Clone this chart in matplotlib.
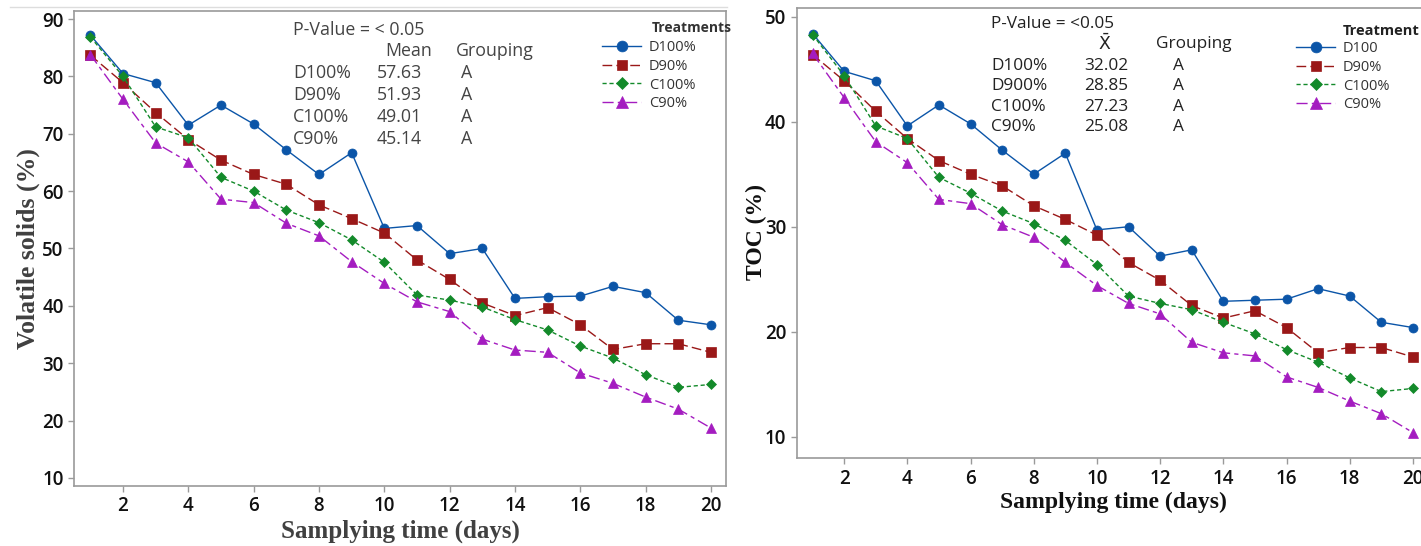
import numpy as np
import matplotlib.pyplot as plt
from matplotlib.lines import Line2D

days = list(range(1, 21))
series = ['D100%', 'D90%', 'C100%', 'C90%']

# volatile solids (%)
vs_d100 = [87.2, 80.5, 78.9, 71.5, 75.0, 71.7, 67.2, 62.9, 66.7, 53.5,
           54.0, 49.1, 50.0, 41.3, 41.6, 41.7, 43.4, 42.3, 37.5, 36.7]
vs_d90 = [83.7, 78.9, 73.7, 69.0, 65.4, 62.9, 61.2, 57.6, 55.2, 52.7,
          48.0, 44.6, 40.5, 38.3, 39.7, 36.7, 32.4, 33.4, 33.4, 31.9]
vs_c100 = [86.9, 80.0, 71.2, 69.3, 62.4, 60.0, 56.7, 54.5, 51.5, 47.6,
           41.9, 41.0, 39.8, 37.6, 35.8, 33.0, 30.9, 28.0, 25.8, 26.3]
vs_c90 = [83.8, 76.0, 68.4, 65.1, 58.6, 58.0, 54.4, 52.2, 47.7, 43.9,
          40.7, 39.0, 34.2, 32.3, 31.9, 28.3, 26.5, 24.1, 22.0, 18.7]

# TOC (%)
toc_d100 = [48.4, 44.8, 43.9, 39.6, 41.6, 39.8, 37.3, 35.0, 37.0, 29.7,
            30.0, 27.2, 27.8, 22.9, 23.0, 23.1, 24.1, 23.4, 20.9, 20.4]
toc_d90 = [46.4, 43.9, 41.0, 38.4, 36.3, 35.0, 33.9, 32.0, 30.7, 29.2,
           26.6, 24.9, 22.5, 21.3, 22.0, 20.4, 18.0, 18.5, 18.5, 17.6]
toc_c100 = [48.3, 44.4, 39.6, 38.4, 34.7, 33.2, 31.5, 30.3, 28.7, 26.4,
            23.4, 22.7, 22.1, 20.9, 19.8, 18.3, 17.1, 15.6, 14.3, 14.6]
toc_c90 = [46.5, 42.3, 38.1, 36.1, 32.6, 32.2, 30.2, 29.0, 26.6, 24.4,
           22.7, 21.7, 19.0, 18.0, 17.7, 15.7, 14.7, 13.4, 12.2, 10.4]

vs_names = ['D100%', 'D90%', 'C100%', 'C90%']
vs_means = ['57.63', '51.93', '49.01', '45.14']
toc_names = ['D100%', 'D900%', 'C100%', 'C90%']
toc_means = ['32.02', '28.85', '27.23', '25.08']
grouping = ['A', 'A', 'A', 'A']
toc_legend = ['D100', 'D90%', 'C100%', 'C90%']

colors = ['#0B55A8', '#9A1818', '#138A2A', '#A41CC0']
markers = ['o', 's', 'D', '^']
msizes = [6.5, 6.5, 5.5, 7]
dashes = [None, (7, 3), (3, 2), (8, 3, 3, 3)]

W, H = 1421, 546
fig = plt.figure(figsize=(W / 100, H / 100), dpi=100)
sans = ['Open Sans', 'DejaVu Sans']
serif = 'Liberation Serif'


def px(x, y):
    return x / W, 1 - y / H


def draw(ax, data, labels):
    handles = []
    for vals, c, m, ms, d, lab in zip(data, colors, markers, msizes, dashes, labels):
        ln, = ax.plot(days, vals, color=c, marker=m, markersize=ms, lw=1.0,
                      label=lab, markeredgewidth=0.5)
        if d is not None:
            ln.set_dashes(d)
        handles.append(ln)
    for s in ax.spines.values():
        s.set_color('#9a9a9a')
        s.set_linewidth(1.2)
    ax.set_xticks(range(2, 21, 2))
    ax.tick_params(colors='#9a9a9a', labelcolor='#111111', length=4, width=1,
                   labelsize=13.5)
    for t in ax.get_xticklabels() + ax.get_yticklabels():
        t.set_fontfamily(sans)
        t.set_fontweight('semibold')
    return handles


def add_legend(ax, handles, x, y):
    leg = ax.legend(handles=handles, loc='upper left', bbox_to_anchor=px(x, y),
                    bbox_transform=fig.transFigure, frameon=False,
                    prop={'family': sans, 'size': 10.5}, handlelength=2.7,
                    handletextpad=0.5, labelspacing=0.26, borderpad=0,
                    borderaxespad=0, markerscale=1.2)
    for t in leg.get_texts():
        t.set_color('#333333')
    return leg


# left panel
ax1 = fig.add_axes([74 / W, 1 - 486 / H, 652 / W, 475 / H])
h1 = draw(ax1, [vs_d100, vs_d90, vs_c100, vs_c90], series)
ax1.set_xlim(0.5, 20.46)
ax1.set_ylim(8.6, 91.4)
ax1.set_yticks(range(10, 91, 10))
add_legend(ax1, h1, 602, 40)
fig.text(*px(652, 28), 'Treatments', fontsize=10, fontweight='bold',
         family=sans, color='#333333', va='center')

grey = '#444444'
fs = 12.8
fig.text(*px(293, 30), 'P-Value = < 0.05', fontsize=fs, family=sans, color=grey, va='center')
fig.text(*px(385, 51), 'Mean', fontsize=fs, family=sans, color=grey, va='center')
fig.text(*px(456, 51), 'Grouping', fontsize=fs, family=sans, color=grey, va='center')
for i, (n, m, g) in enumerate(zip(vs_names, vs_means, grouping)):
    y = 73 + i * 22
    fig.text(*px(293, y), n, fontsize=fs, family=sans, color=grey, va='center')
    fig.text(*px(377, y), m, fontsize=fs, family=sans, color=grey, va='center')
    fig.text(*px(461, y), g, fontsize=fs, family=sans, color=grey, va='center')

fig.text(*px(400, 531), 'Samplying time (days)', fontsize=18, fontweight='bold',
         family=serif, color='#404040', ha='center', va='center')
fig.text(*px(28, 249), 'Volatile solids (%)', fontsize=18.5, fontweight='bold',
         family=serif, color='#404040', ha='center', va='center', rotation=90)

# right panel (cut off at the image edge)
ax2 = fig.add_axes([796.7 / W, 1 - 458.3 / H, 632 / W, 450 / H])
h2 = draw(ax2, [toc_d100, toc_d90, toc_c100, toc_c90], toc_legend)
ax2.set_xlim(0.5, 20.5)
ax2.set_ylim(7.95, 50.8)
ax2.set_yticks(range(10, 51, 10))
add_legend(ax2, h2, 1296, 41)
fig.text(*px(1343, 31), 'Treatment', fontsize=10.5, fontweight='bold',
         family=sans, color='#222222', va='center')

dark = '#222222'
fs2 = 12.4
fig.text(*px(991, 24), 'P-Value = <0.05', fontsize=fs2, family=sans, color=dark, va='center')
fig.text(*px(1105, 44), r'$\bar{\mathrm{X}}$', fontsize=fs2, color=dark, va='center', ha='center')
fig.text(*px(1156, 44), 'Grouping', fontsize=fs2, family=sans, color=dark, va='center')
for i, (n, m, g) in enumerate(zip(toc_names, toc_means, grouping)):
    y = 66 + i * 20.3
    fig.text(*px(991, y), n, fontsize=fs2, family=sans, color=dark, va='center')
    fig.text(*px(1084, y), m, fontsize=fs2, family=sans, color=dark, va='center')
    fig.text(*px(1173, y), g, fontsize=fs2, family=sans, color=dark, va='center')

fig.text(*px(1113, 502), 'Samplying time (days)', fontsize=17, fontweight='bold',
         family=serif, color='#111111', ha='center', va='center')
fig.text(*px(756, 232), 'TOC (%)', fontsize=17, fontweight='bold',
         family=serif, color='#111111', ha='center', va='center', rotation=90)

# thin frame line above the left panel
fig.add_artist(Line2D([10 / W, 727 / W], [1 - 7 / H] * 2, color='#dddddd', lw=1))

fig.savefig('out.png', dpi=100)
